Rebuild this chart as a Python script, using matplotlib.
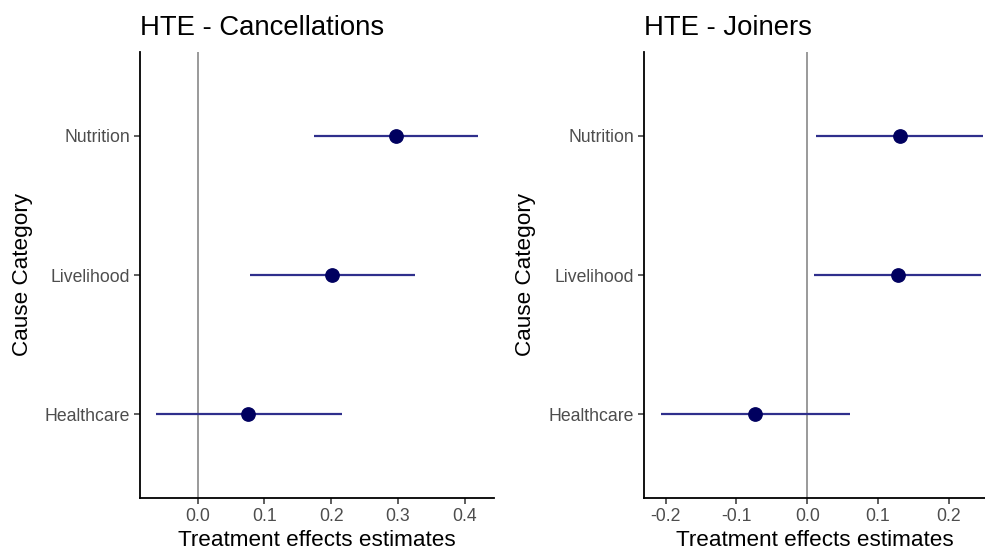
import matplotlib.pyplot as plt

plt.rcParams['font.family'] = ['Liberation Sans', 'DejaVu Sans']

# HTE estimates with confidence intervals, by cause category
categories = ['Healthcare', 'Livelihood', 'Nutrition']

cancel_est = [0.076, 0.201, 0.297]
cancel_lo = [-0.063, 0.078, 0.175]
cancel_hi = [0.216, 0.326, 0.420]

join_est = [-0.074, 0.128, 0.131]
join_lo = [-0.207, 0.010, 0.013]
join_hi = [0.060, 0.246, 0.248]

W, H = 985, 547
fig = plt.figure(figsize=(W / 100, H / 100), dpi=100)

# panel boxes in pixels: left, right, top, bottom
boxes = [(139.5, 494, 52, 498), (644, 985, 52, 498)]
axes = [fig.add_axes([l / W, 1 - b / H, (r - l) / W, (b - t) / H]) for l, r, t, b in boxes]
ylabel_x = [23, 525]


def draw_panel(ax, box, ylx, est, lo, hi, title, xlim, xticks):
    l, r, t, b = box
    ypos = list(range(len(categories)))
    ax.axvline(0, color='#9a9a9a', lw=1.4, zorder=1)
    ax.hlines(ypos, lo, hi, color='#2f2f8c', lw=1.6, zorder=2)
    ax.plot(est, ypos, 'o', color='#00005f', ms=9.6, zorder=3)
    ax.set_xlim(*xlim)
    ax.set_ylim(-0.6, len(categories) - 0.4)
    ax.set_yticks(ypos)
    ax.set_yticklabels(categories)
    ax.set_xticks(xticks)
    ax.set_xticklabels(['%.1f' % v for v in xticks])
    for s in ['top', 'right']:
        ax.spines[s].set_visible(False)
    for s in ['left', 'bottom']:
        ax.spines[s].set_linewidth(1.3)
        ax.spines[s].set_color('black')
    ax.tick_params(length=4, width=1.1, color='#333333', labelcolor='#4d4d4d',
                   labelsize=12.7)
    ax.tick_params(axis='x', pad=3.2)
    ax.tick_params(axis='y', pad=3)
    ax.set_xlabel('Treatment effects estimates', fontsize=16.2, color='black')
    ax.xaxis.label.set_va('baseline')
    ax.xaxis.set_label_coords(0.5, -(546 - b) / (b - t))
    ax.set_ylabel('Cause Category', fontsize=16.2, color='black')
    ax.yaxis.label.set_va('center')
    ax.yaxis.set_label_coords((ylx - l) / (r - l), 0.5)
    ax.set_title(title, fontsize=19.8, loc='left', pad=12)


draw_panel(axes[0], boxes[0], ylabel_x[0], cancel_est, cancel_lo, cancel_hi,
           'HTE - Cancellations', (-0.087, 0.444), [0.0, 0.1, 0.2, 0.3, 0.4])
draw_panel(axes[1], boxes[1], ylabel_x[1], join_est, join_lo, join_hi,
           'HTE - Joiners', (-0.2305, 0.251), [-0.2, -0.1, 0.0, 0.1, 0.2])

fig.savefig('out.png', dpi=100)
